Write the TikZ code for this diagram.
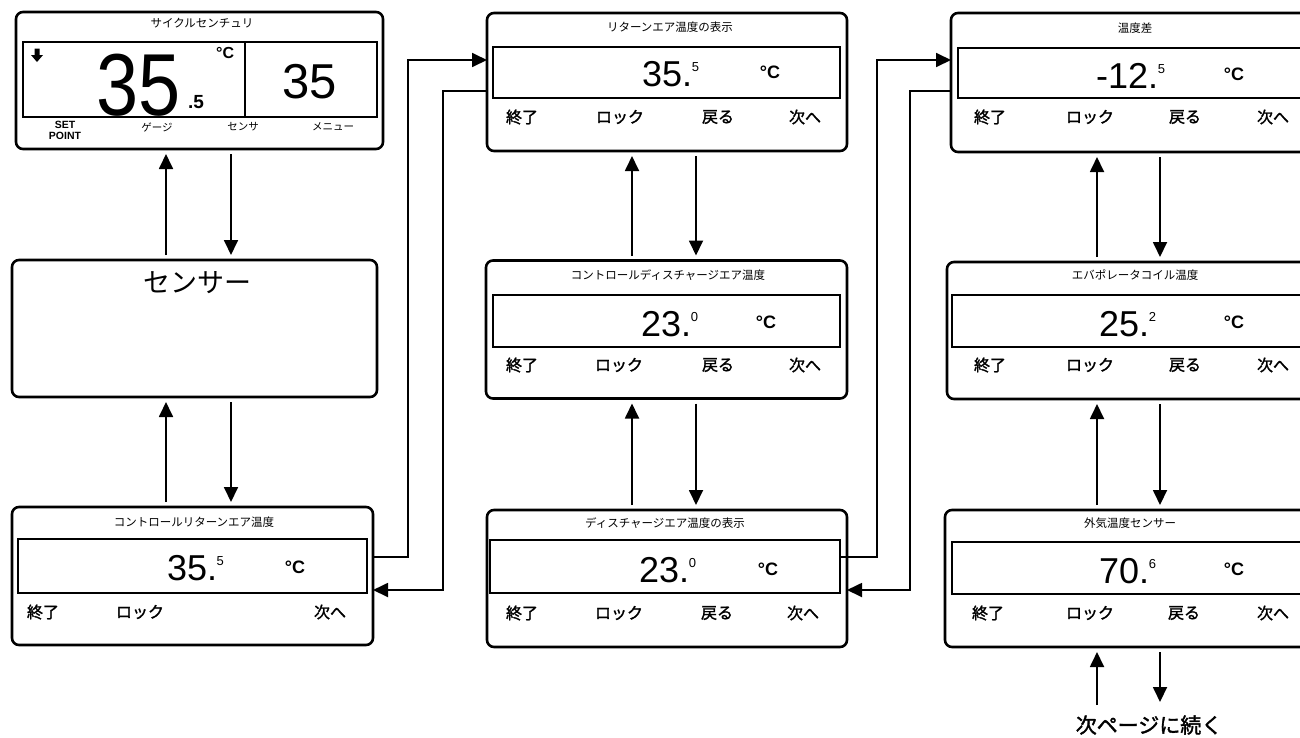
\documentclass[tikz,border=0pt]{standalone}
\usepackage{fontspec}
\setmainfont{Liberation Sans}
\newfontfamily\jp{Noto Sans CJK JP}
\newfontfamily\jpb[FakeBold=1.6]{Noto Sans CJK JP}
\usetikzlibrary{arrows.meta}
\tikzset{
  box/.style={draw, line width=2.6pt, rounded corners=7pt, inner sep=0pt, outer sep=0pt},
  disp/.style={draw, line width=1.3pt, inner sep=0pt, outer sep=0pt},
  conn/.style={line width=1.8pt, -{Triangle[length=15pt,width=14pt]}},
  vconn/.style={conn, shorten <=5pt, shorten >=5pt},
  ttl/.style={font=\jp\fontsize{11.5}{12}\selectfont, inner sep=0pt},
  lab/.style={font=\jpb\fontsize{16}{16}\selectfont, inner sep=0pt},
  val/.style={font=\fontsize{36}{36}\selectfont, anchor=base west, inner sep=0pt, text depth=0pt},
  deg/.style={font=\bfseries\fontsize{18}{18}\selectfont, anchor=base, inner sep=0pt},
  small/.style={font=\jp\fontsize{10.5}{11}\selectfont, inner sep=0pt}
}
\newcommand{\supv}[1]{\kern-0.5pt\raisebox{15pt}{\fontsize{13}{13}\selectfont #1}}
\begin{document}
\begin{tikzpicture}[x=1pt,y=-1pt]
\path[fill=white] (0,0) rectangle (1300,737);
\useasboundingbox (0,0) rectangle (1300,737);

% ---------- boxes ----------
\node[box, minimum width=367pt, minimum height=137pt] (b1) at (199.5,80.5) {};
\node[box, minimum width=365pt, minimum height=137pt] (b2) at (194.5,328.5) {};
\node[box, minimum width=361pt, minimum height=138pt] (b3) at (192.5,576) {};
\node[box, minimum width=360pt, minimum height=138pt] (b4) at (667,82) {};
\node[box, minimum width=361pt, minimum height=138pt] (b5) at (666.5,329.5) {};
\node[box, minimum width=360pt, minimum height=137pt] (b6) at (667,578.5) {};
\node[box, minimum width=369pt, minimum height=139pt] (b7) at (1135.5,82.5) {};
\node[box, minimum width=373pt, minimum height=137pt] (b8) at (1133.5,330.5) {};
\node[box, minimum width=375pt, minimum height=137pt] (b9) at (1132.5,578.5) {};

% ---------- displays ----------
\node[disp, minimum width=222pt, minimum height=75pt] (d1a) at (134,79.5) {};
\node[disp, minimum width=132pt, minimum height=75pt] (d1b) at (311,79.5) {};
\node[disp, minimum width=349pt, minimum height=54pt] (d3) at (192.5,566) {};
\node[disp, minimum width=347pt, minimum height=51pt] (d4) at (666.5,72.5) {};
\node[disp, minimum width=347pt, minimum height=52pt] (d5) at (666.5,321) {};
\node[disp, minimum width=350pt, minimum height=53pt] (d6) at (665,566.5) {};
\node[disp, minimum width=362pt, minimum height=50pt] (d7) at (1139,73) {};
\node[disp, minimum width=368pt, minimum height=52pt] (d8) at (1136,321) {};
\node[disp, minimum width=368pt, minimum height=52pt] (d9) at (1136,568) {};

% ---------- titles ----------
\node[ttl] (t1) at (202,23) {サイクルセンチュリ};
\node[ttl] (t3) at (194,522) {コントロールリターンエア温度};
\node[ttl] (t4) at (670,27) {リターンエア温度の表示};
\node[ttl] (t5) at (668,275) {コントロールディスチャージエア温度};
\node[ttl] (t6) at (665,523) {ディスチャージエア温度の表示};
\node[ttl] (t7) at (1135,28) {温度差};
\node[ttl] (t8) at (1135,275) {エバポレータコイル温度};
\node[ttl] (t9) at (1130,523) {外気温度センサー};

% ---------- first box content ----------
\fill (34.5,48.5) -- (39.5,48.5) -- (39.5,55) -- (43,55) -- (37,62) -- (31,55) -- (34.5,55) -- cycle;
\node[anchor=base west, inner sep=0pt, text depth=0pt, font=\fontsize{88}{88}\selectfont] (big) at (96,115) {\scalebox{0.86}[1]{35}};
\node[anchor=base west, inner sep=0pt, text depth=0pt, font=\bfseries\fontsize{19}{19}\selectfont] (bigd) at (188,108) {.5};
\node[anchor=base west, inner sep=0pt, font=\bfseries\fontsize{16}{16}\selectfont] (bigc) at (216,58) {°C};
\node[anchor=base, inner sep=0pt, text depth=0pt, font=\fontsize{49}{49}\selectfont] (r35) at (310,98) {35};
\node[inner sep=0pt, align=center, font=\bfseries\fontsize{10.5}{11}\selectfont] (sp) at (65,130) {SET\\POINT};
\node[small] (g1) at (157,127) {ゲージ};
\node[small] (g2) at (243,127) {センサ};
\node[small] (g3) at (333,127) {メニュー};

% ---------- sensor box ----------
\node[inner sep=0pt, font=\jp\fontsize{27}{27}\selectfont] (sens) at (197,283) {センサー};

% ---------- values ----------
\node[val] (v3) at (167,580) {35.\supv{5}};
\node[deg] (c3) at (295,573) {°C};
\node[val] (v4) at (642,86) {35.\supv{5}};
\node[deg] (c4) at (770,78) {°C};
\node[val] (v5) at (641,336) {23.\supv{0}};
\node[deg] (c5) at (766,328) {°C};
\node[val] (v6) at (639,582) {23.\supv{0}};
\node[deg] (c6) at (768,575) {°C};
\node[val] (v7) at (1096,88) {-12.\supv{5}};
\node[deg] (c7) at (1234,80) {°C};
\node[val] (v8) at (1099,336) {25.\supv{2}};
\node[deg] (c8) at (1234,328) {°C};
\node[val] (v9) at (1099,583) {70.\supv{6}};
\node[deg] (c9) at (1234,575) {°C};

% ---------- button labels ----------
\node[lab] (l3a) at (43,612) {終了};
\node[lab] (l3b) at (140,612) {ロック};
\node[lab] (l3d) at (330,612) {次へ};
\node[lab] (l4a) at (522,117) {終了};
\node[lab] (l4b) at (620,117) {ロック};
\node[lab] (l4c) at (718,117) {戻る};
\node[lab] (l4d) at (805,117) {次へ};
\node[lab] (l5a) at (522,365) {終了};
\node[lab] (l5b) at (619,365) {ロック};
\node[lab] (l5c) at (718,365) {戻る};
\node[lab] (l5d) at (805,365) {次へ};
\node[lab] (l6a) at (522,613) {終了};
\node[lab] (l6b) at (619,613) {ロック};
\node[lab] (l6c) at (717,613) {戻る};
\node[lab] (l6d) at (803,613) {次へ};
\node[lab] (l7a) at (990,117) {終了};
\node[lab] (l7b) at (1090,117) {ロック};
\node[lab] (l7c) at (1185,117) {戻る};
\node[lab] (l7d) at (1273,117) {次へ};
\node[lab] (l8a) at (990,365) {終了};
\node[lab] (l8b) at (1090,365) {ロック};
\node[lab] (l8c) at (1185,365) {戻る};
\node[lab] (l8d) at (1273,365) {次へ};
\node[lab] (l9a) at (988,613) {終了};
\node[lab] (l9b) at (1090,613) {ロック};
\node[lab] (l9c) at (1184,613) {戻る};
\node[lab] (l9d) at (1273,613) {次へ};

\node[inner sep=0pt, font=\jpb\fontsize{21}{21}\selectfont] (cont) at (1149,725) {次ページに続く};

% ---------- helper coordinates ----------
\coordinate (k1) at (408,0);
\coordinate (k2) at (443,0);
\coordinate (k3) at (877,0);
\coordinate (k4) at (910,0);
\coordinate (ya) at (0,557);
\coordinate (yb) at (0,590);
\coordinate (yc) at (0,60);
\coordinate (yd) at (0,91);
\coordinate (u1) at (166,0);
\coordinate (w1) at (231,0);
\coordinate (u2) at (632,0);
\coordinate (w2) at (696,0);
\coordinate (u3) at (1097,0);
\coordinate (w3) at (1160,0);
\coordinate (e1) at (1097,705);
\coordinate (e2) at (1160,702);

% ---------- loop connectors ----------
\draw[conn] (b3.east |- ya) -| (k1 |- yc) -- (b4.west |- yc);
\draw[conn] (b4.west |- yd) -| (k2 |- yb) -- (b3.east |- yb);
\draw[conn] (d6.east |- ya) -| (k3 |- yc) -- (b7.west |- yc);
\draw[conn] (b7.west |- yd) -| (k4 |- yb) -- (b6.east |- yb);

% ---------- vertical connectors ----------
\draw[vconn] (b2.north -| u1) -- (b1.south -| u1);
\draw[vconn] (b1.south -| w1) -- (b2.north -| w1);
\draw[vconn] (b3.north -| u1) -- (b2.south -| u1);
\draw[vconn] (b2.south -| w1) -- (b3.north -| w1);
\draw[vconn] (b5.north -| u2) -- (b4.south -| u2);
\draw[vconn] (b4.south -| w2) -- (b5.north -| w2);
\draw[vconn] (b6.north -| u2) -- (b5.south -| u2);
\draw[vconn] (b5.south -| w2) -- (b6.north -| w2);
\draw[vconn] (b8.north -| u3) -- (b7.south -| u3);
\draw[vconn] (b7.south -| w3) -- (b8.north -| w3);
\draw[vconn] (b9.north -| u3) -- (b8.south -| u3);
\draw[vconn] (b8.south -| w3) -- (b9.north -| w3);
\draw[vconn, shorten <=0pt] (e1) -- (b9.south -| u3);
\draw[vconn, shorten >=0pt] (b9.south -| w3) -- (e2);
\end{tikzpicture}
\end{document}
